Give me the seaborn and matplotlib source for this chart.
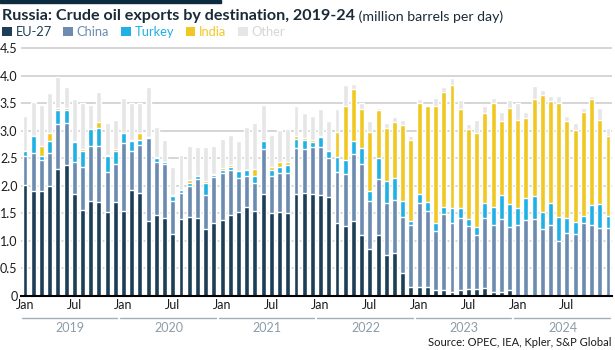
import numpy as np
import pandas as pd
import seaborn as sns
import matplotlib.pyplot as plt
import matplotlib.transforms as mtransforms
from matplotlib.patches import Patch, Rectangle

# Monthly exports, million barrels per day
months = pd.date_range("2019-01-01", "2024-12-01", freq="MS").strftime("%Y-%m").tolist()

eu = [2.02, 1.90, 1.90, 1.99, 2.31, 2.38, 1.85, 1.57, 1.73, 1.71, 1.53, 1.70,
      1.54, 1.93, 1.87, 1.36, 1.47, 1.42, 1.12, 1.39, 1.43, 1.41, 1.21, 1.33,
      1.38, 1.47, 1.52, 1.61, 1.55, 1.86, 1.50, 1.53, 1.50, 1.86, 1.87, 1.85,
      1.84, 1.79, 1.32, 1.27, 1.37, 1.10, 0.86, 1.10, 0.74, 0.78, 0.41, 0.16,
      0.16, 0.16, 0.10, 0.10, 0.08, 0.10, 0.12, 0.13, 0.15, 0.07, 0.08, 0.10,
      0.00, 0.00, 0.00, 0.00, 0.00, 0.00, 0.00, 0.00, 0.00, 0.00, 0.00, 0.00]
china = [0.53, 0.70, 0.56, 0.61, 0.81, 0.76, 0.59, 0.77, 0.99, 1.01, 0.73, 0.70,
         1.24, 0.71, 0.88, 1.51, 0.96, 0.98, 0.61, 0.48, 0.56, 0.71, 0.63, 0.83,
         0.85, 0.81, 0.62, 0.56, 0.51, 0.80, 0.67, 0.70, 0.73, 0.83, 0.80, 0.85,
         0.86, 0.71, 0.94, 0.94, 1.21, 1.30, 0.87, 1.03, 0.95, 0.96, 1.03, 1.13,
         1.53, 1.38, 1.08, 1.38, 1.25, 1.31, 1.15, 0.97, 1.26, 1.22, 1.31, 1.15,
         1.29, 1.38, 1.40, 1.22, 1.29, 1.00, 1.15, 1.13, 1.33, 1.29, 1.24, 1.24]
turkey = [0.09, 0.30, 0.09, 0.21, 0.25, 0.23, 0.35, 0.30, 0.31, 0.33, 0.29, 0.23,
          0.18, 0.17, 0.09, 0.01, 0.07, 0.04, 0.08, 0.05, 0.07, 0.05, 0.21, 0.03,
          0.06, 0.06, 0.12, 0.11, 0.11, 0.15, 0.12, 0.11, 0.14, 0.16, 0.17, 0.09,
          0.18, 0.13, 0.26, 0.26, 0.24, 0.28, 0.18, 0.37, 0.39, 0.40, 0.28, 0.08,
          0.17, 0.16, 0.15, 0.13, 0.27, 0.19, 0.13, 0.16, 0.28, 0.32, 0.44, 0.42,
          0.31, 0.40, 0.41, 0.30, 0.40, 0.44, 0.26, 0.21, 0.13, 0.36, 0.43, 0.21]
india = [0.00, 0.01, 0.17, 0.14, 0.04, 0.04, 0.03, 0.03, 0.01, 0.10, 0.01, 0.03,
         0.00, 0.02, 0.11, 0.00, 0.03, 0.00, 0.03, 0.00, 0.04, 0.00, 0.04, 0.02,
         0.03, 0.04, 0.00, 0.00, 0.14, 0.00, 0.05, 0.10, 0.07, 0.05, 0.03, 0.04,
         0.02, 0.00, 0.45, 0.97, 0.94, 0.71, 1.07, 0.87, 0.97, 1.01, 1.39, 1.47,
         1.64, 1.74, 2.11, 2.10, 2.23, 1.80, 1.63, 1.69, 1.64, 1.89, 1.34, 1.74,
         1.60, 1.46, 1.77, 2.13, 1.85, 2.06, 1.76, 1.68, 1.88, 1.92, 1.52, 1.45]
other = [0.62, 0.61, 0.74, 0.74, 0.56, 0.39, 0.76, 0.83, 0.43, 0.56, 0.58, 0.54,
         0.63, 0.68, 0.56, 0.91, 0.54, 0.40, 0.51, 0.64, 0.62, 0.53, 0.61, 0.52,
         0.53, 0.55, 0.55, 0.78, 0.83, 0.65, 0.59, 0.57, 0.59, 0.55, 0.46, 0.43,
         0.49, 0.54, 0.43, 0.39, 0.09, 0.11, 0.19, 0.04, 0.09, 0.10, 0.08, 0.06,
         0.07, 0.02, 0.15, 0.09, 0.12, 0.16, 0.10, 0.25, 0.12, 0.10, 0.17, 0.14,
         0.30, 0.10, 0.23, 0.09, 0.09, 0.13, 0.10, 0.12, 0.07, 0.06, 0.23, 0.15]

series_names = ["EU-27", "China", "Turkey", "India", "Other"]
years = ["2019", "2020", "2021", "2022", "2023", "2024"]
ytick_labels = ["0", "0.5", "1.0", "1.5", "2.0", "2.5", "3.0", "3.5", "4.0", "4.5"]

colors = {"EU-27": "#1d3f56", "China": "#6b8bb0", "Turkey": "#1fb0e6",
          "India": "#f1c823", "Other": "#e6e6e6"}
label_colors = {"EU-27": "#1d3f56", "China": "#6b8bb0", "Turkey": "#1fb0e6",
                "India": "#f1c823", "Other": "#d6d6d6"}

df = pd.DataFrame({"month": months, "EU-27": eu, "China": china,
                   "Turkey": turkey, "India": india, "Other": other})
cum = df[series_names].cumsum(axis=1)

sns.set_style("white")
plt.rcParams["font.family"] = ["Lato", "DejaVu Sans"]

fig = plt.figure(figsize=(6.15, 3.5), dpi=100)
ax = fig.add_axes([20.9 / 615, 54 / 350, 591.2 / 615, 249 / 350])

# stacked bars: draw cumulative totals from the top layer down
for name in reversed(series_names):
    sns.barplot(x=df["month"], y=cum[name], color=colors[name], width=0.6,
                saturation=1, ax=ax, zorder=2)

ax.set_xlim(-0.5, len(months) - 0.5)
ax.set_ylim(0, 4.52)
ax.set_yticks(np.arange(0, 4.51, 0.5))
ax.set_yticklabels(ytick_labels)
ax.set_xticks(range(0, len(months), 6))
ax.set_xticklabels(["Jan", "Jul"] * len(years))
ax.set_xlabel("")
ax.set_ylabel("")
ax.tick_params(length=0, labelsize=9, colors="#1a1a1a")
ax.tick_params(axis="y", pad=2.5)
ax.tick_params(axis="x", pad=2.5)

ax.set_axisbelow(True)
ax.yaxis.grid(True, color="#d2d2d2", lw=1.3, zorder=0)
ax.xaxis.grid(False)
for side in ["left", "top", "right"]:
    ax.spines[side].set_visible(False)
ax.spines["bottom"].set_color("black")
ax.spines["bottom"].set_linewidth(1.5)
ax.spines["bottom"].set_zorder(3)

# year labels with underlines
blend = mtransforms.blended_transform_factory(ax.transData, fig.transFigure)
for i, yr in enumerate(years):
    ax.plot([12 * i - 0.4, 12 * i + 11.2], [1 - 317.7 / 350] * 2, transform=blend,
            clip_on=False, color="#a3afb8", lw=1)
    ax.text(12 * i + 5.5, 1 - 328 / 350, yr, transform=blend, ha="center",
            va="center", color="#8c9ca8", size=9)

# title
fig.patches.append(Rectangle((0, 1 - 3 / 350), 221 / 615, 3 / 350,
                             transform=fig.transFigure, color="#0d2b3e"))
t1 = fig.text(0.003, 1 - 20 / 350, "Russia: Crude oil exports by destination, 2019-24",
              weight="bold", size=11.6, color="#1a2b38", va="baseline")
fig.canvas.draw()
ax.annotate(" (million barrels per day)", xy=(1, 0), xycoords=t1, va="bottom",
            ha="left", size=10.2, color="#1a2b38", annotation_clip=False)

# legend
handles = [Patch(facecolor=colors[n], edgecolor="none") for n in series_names]
fig.legend(handles, series_names, loc="upper left", bbox_to_anchor=(0.003, 1 - 26 / 350),
           ncol=5, frameon=False, fontsize=9.3, handlelength=0.75, handleheight=0.75,
           handletextpad=0.3, columnspacing=0.9, borderpad=0, borderaxespad=0,
           labelcolor=[label_colors[n] for n in series_names])

fig.text(0.995, 1 - 342 / 350, "Source: OPEC, IEA, Kpler, S&P Global", ha="right",
         va="center", size=8, color="#1a1a1a")

fig.savefig("out.png", dpi=100)
